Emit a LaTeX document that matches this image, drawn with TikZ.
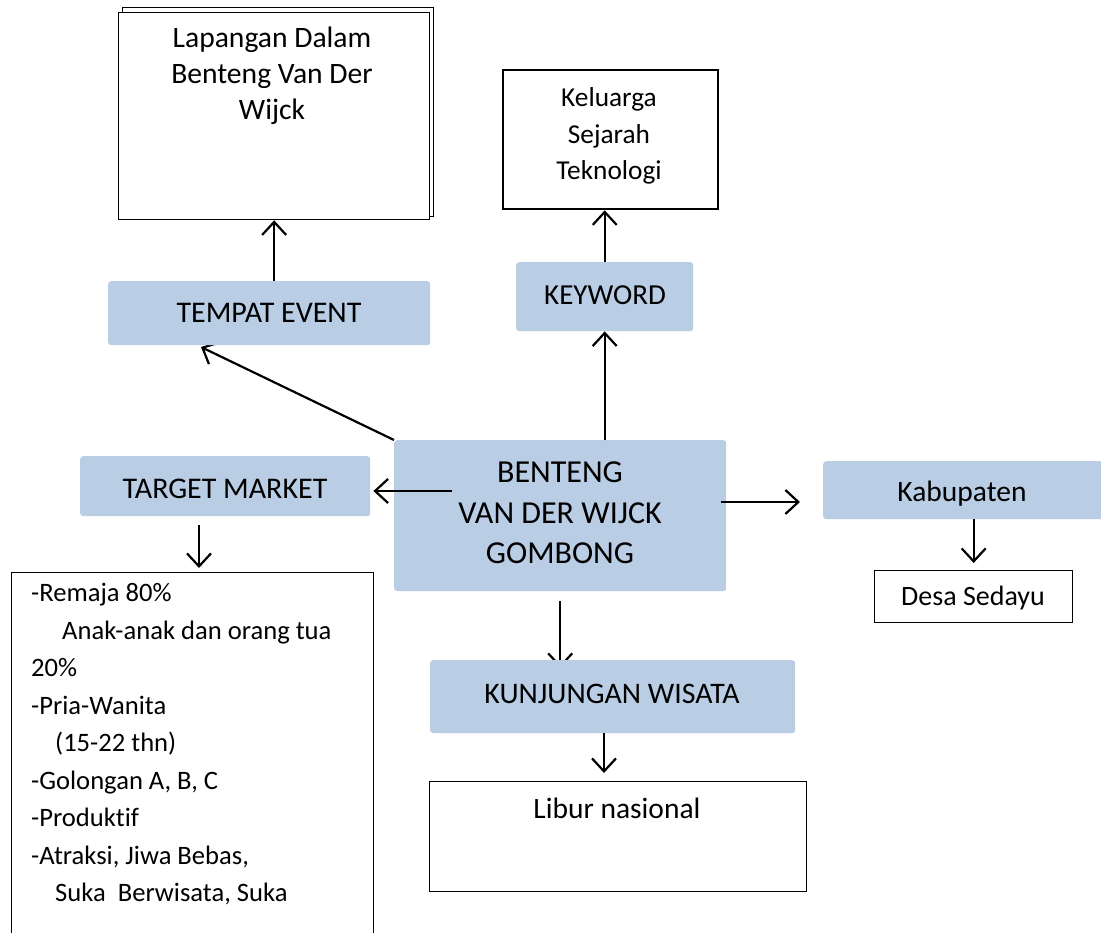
\documentclass[tikz,border=0pt]{standalone}
\usepackage{fontspec}
\setmainfont{Carlito}[Ligatures=NoCommon]
\usetikzlibrary{arrows.meta,calc,backgrounds}
\definecolor{boxblue}{HTML}{B9CDE5}
\tikzset{
  bluebox/.style={rectangle, fill=boxblue, rounded corners=3pt, anchor=north west, inner sep=0pt},
  whitebox/.style={rectangle, draw=black, line width=1.3pt, fill=white, anchor=north west, inner sep=0pt},
  txt/.style={inner sep=0pt, align=center},
  conn/.style={line width=2.2pt, -{Straight Barb[length=13pt,width=24pt,line width=2.2pt]}},
}
\begin{document}
\begin{tikzpicture}[x=1pt,y=-1pt]
\useasboundingbox (0,0) rectangle (1101,933);
% Lapangan (stacked)
\node[whitebox, minimum width=311pt, minimum height=209pt] (lapback) at (122,7) {};
\node[whitebox, minimum width=311pt, minimum height=207pt] (lap) at (118,12) {};
\node[txt, font=\fontsize{29.6}{36}\selectfont] (lapT) at (272,76) {Lapangan Dalam\\Benteng Van Der\\Wijck};
% Keluarga
\node[whitebox, line width=2.3pt, minimum width=215pt, minimum height=139pt] (kel) at (502,69) {};
\node[txt, font=\fontsize{27.3}{36.5}\selectfont] (kelT) at (609,136) {Keluarga\\Sejarah\\Teknologi};
% blue boxes
\node[bluebox, minimum width=322pt, minimum height=64pt] (tempat) at (108,281) {};
\node[txt, font=\fontsize{30}{34}\selectfont] (tempatT) at (269,313) {TEMPAT EVENT};
\node[bluebox, minimum width=177pt, minimum height=69pt] (kw) at (516,262) {};
\node[txt, font=\fontsize{29}{34}\selectfont] (kwT) at (605,295) {KEYWORD};
\node[bluebox, minimum width=332pt, minimum height=151pt] (bent) at (394,440) {};
\node[txt, font=\fontsize{32}{40.5}\selectfont] (bentT) at (560,513) {BENTENG\\VAN DER WIJCK\\GOMBONG};
\node[bluebox, minimum width=290pt, minimum height=60pt] (target) at (80,456) {};
\node[txt, font=\fontsize{30}{34}\selectfont] (targetT) at (225,489) {TARGET MARKET};
\node[bluebox, minimum width=285pt, minimum height=58pt] (kab) at (823,461) {};
\node[txt, font=\fontsize{29.5}{34}\selectfont] (kabT) at (962,494) {Kabupaten};
\node[bluebox, minimum width=365pt, minimum height=73pt] (kun) at (430,660) {};
\node[txt, font=\fontsize{29.8}{34}\selectfont] (kunT) at (612,694) {KUNJUNGAN WISATA};
% white boxes
\node[whitebox, minimum width=198pt, minimum height=52pt] (desa) at (874,570) {};
\node[txt, font=\fontsize{28}{34}\selectfont] (desaT) at (973,598) {Desa Sedayu};
\node[whitebox, minimum width=377pt, minimum height=110pt] (lib) at (429,781) {};
\node[txt, font=\fontsize{29.5}{34}\selectfont] (libT) at (617,808) {Libur nasional};
\node[whitebox, minimum width=362pt, minimum height=380pt] (list) at (11,572) {};
\node[inner sep=0pt, align=left, anchor=north west, font=\fontsize{26.6}{37.5}\selectfont] (listT) at (31,583) {%
-Remaja 80\%\\
\hspace*{31pt}Anak-anak dan orang tua\\
20\%\\
-Pria-Wanita\\
\hspace*{24pt}(15-22 thn)\\
-Golongan A, B, C\\
-Produktif\\
-Atraksi, Jiwa Bebas,\\
\hspace*{24pt}Suka\ \ Berwisata, Suka};
% connectors under boxes
\begin{scope}[on background layer]
\coordinate (tempatTip) at (201,347);
\draw[conn] (bent.north west) -- (tempatTip);
\draw[conn] ($(bent.south)+(0,10)$) -- ($(bent.south |- kun.north)+(0,8)$);
\end{scope}
% connectors
\draw[conn] (tempat.north -| lap.south) -- (lap.south);
\draw[conn] (kw.north) -- (kw.north |- kel.south);
\draw[conn] (kw.south |- bent.north) -- (kw.south);
\coordinate (tmS) at (452,491);
\draw[conn, shorten >=3pt] (tmS) -- (tmS -| target.east);
\coordinate (kabS) at (721,502);
\draw[conn, shorten >=23pt] (kabS) -- (kabS -| kab.west);
\draw[conn, shorten >=7pt] (desa.north |- kab.south) -- (desa.north);
\coordinate (tlS) at (199,525);
\draw[conn, shorten >=4pt] (tlS) -- (tlS |- list.north);
\coordinate (klS) at (604,733);
\draw[conn, shorten >=8pt] (klS) -- (klS |- lib.north);
\end{tikzpicture}
\end{document}
